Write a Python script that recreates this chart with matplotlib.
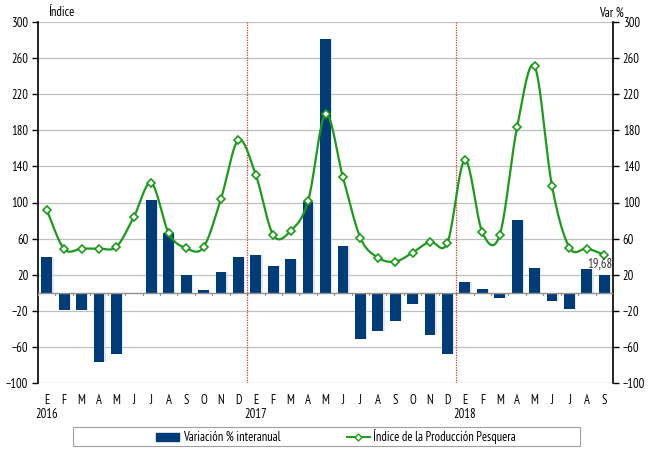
import numpy as np
import matplotlib
matplotlib.use("Agg")
import matplotlib.pyplot as plt
from matplotlib.patches import Patch, Rectangle
from matplotlib.lines import Line2D
from matplotlib import font_manager

names = {f.name for f in font_manager.fontManager.ttflist}
font = "Liberation Sans"
for cand in ["Liberation Sans Narrow", "Arial Narrow", "PT Sans Narrow", "Archivo Narrow",
             "Roboto Condensed", "Open Sans Condensed", "DejaVu Sans Condensed"]:
    if cand in names:
        font = cand
        break
plt.rcParams['font.family'] = [font, 'DejaVu Sans']

months = ["E", "F", "M", "A", "M", "J", "J", "A", "S", "O", "N", "D"] * 2 + ["E", "F", "M", "A", "M", "J", "J", "A", "S"]
years = ["2016", "2017", "2018"]

variacion = [40, -19, -19, -77, -68, -1, 103, 66, 20, 3, 23, 40,
             42, 30, 37, 101, 281, 52, -51, -42, -31, -13, -47, -68,
             12, 4.5, -6, 81, 27, -9, -18, 26, 19.68]
indice = [92, 48.5, 49, 49, 51, 84, 121.5, 66, 49.5, 50.5, 104, 169,
          130.5, 64, 68.5, 101.5, 198, 128, 61, 39, 34.5, 44.5, 56.5, 55.5,
          147, 67, 64, 184, 251, 118, 50, 49, 42]

navy = "#003D78"
green = "#1B9A1B"
fs = 9

fig = plt.figure(figsize=(6.5, 4.49), dpi=100)
ax = fig.add_axes([38/650, 1-383/449, (613-38)/650, (383-22)/449])
ax2 = ax.twinx()

n = len(variacion)
x = np.arange(n)

yt = np.arange(-100, 301, 40)
for v in yt:
    ax.axhline(v, color="#C0C0C0", lw=0.9, zorder=0)

ax2.bar(x + 0.08, variacion, width=0.62, color="#D8D8D8", alpha=0.6, zorder=1)
ax2.bar(x, variacion, width=0.62, color=navy, zorder=2)
ax2.axhline(0, color="#909090", lw=1.0, zorder=3)
for b in np.arange(n + 1) - 0.5:
    ax2.plot([b, b], [0, -3], color="#909090", lw=0.8, zorder=3)

def catmull(xs, ys, steps=20):
    P = np.column_stack([xs, ys]).astype(float)
    P = np.vstack([P[0], P, P[-1]])
    out = []
    for i in range(1, len(P) - 2):
        p0, p1, p2, p3 = P[i-1], P[i], P[i+1], P[i+2]
        c1 = p1 + (p2 - p0) / 6
        c2 = p2 - (p3 - p1) / 6
        t = np.linspace(0, 1, steps)[:, None]
        seg = (1-t)**3*p1 + 3*(1-t)**2*t*c1 + 3*(1-t)*t**2*c2 + t**3*p2
        out.append(seg if i == 1 else seg[1:])
    return np.vstack(out)

curve = catmull(x, indice)
ax2.plot(curve[:, 0], curve[:, 1], color=green, lw=1.6, zorder=4)
ax2.plot(x, indice, ls="none", marker="D", ms=4.2, mfc="white", mec=green, mew=1.2, zorder=5)

for b in [11.5, 23.5]:
    ax2.axvline(b, color="#E03030", ls=(0, (1, 1)), lw=0.9, zorder=3)

for a in (ax, ax2):
    a.set_ylim(-100, 300)
    a.set_yticks(yt)
    a.set_xlim(-0.5, n - 0.5)
    a.tick_params(axis="y", labelsize=fs, length=4, width=1, direction="out", colors="black", pad=3)
    for s in ["top", "bottom"]:
        a.spines[s].set_visible(False)
ax.spines["right"].set_visible(False)
ax2.spines["left"].set_visible(False)
ax.spines["left"].set_linewidth(1.2)
ax2.spines["right"].set_linewidth(1.2)

labels = []
yi = 0
for i, m in enumerate(months):
    if m == "E" and i % 12 == 0:
        labels.append(m + "\n" + years[yi]); yi += 1
    else:
        labels.append(m)
ax.set_xticks(x)
ax.set_xticklabels(labels, fontsize=fs, linespacing=1.1)
ax.tick_params(axis="x", length=0, pad=8)
ax2.tick_params(axis="x", length=0)

ax2.annotate("19,68", (x[-1], variacion[-1]), xytext=(-3, 3), textcoords="offset points",
             ha="center", va="bottom", fontsize=fs, color="#333333", zorder=6)

fig.text(48/650, 1-13/449, "Índice", fontsize=fs, ha="left", va="center")
fig.text(624/650, 1-13/449, "Var %", fontsize=fs, ha="right", va="center")

fig.patches.append(Rectangle((73/650, 1-446/449), (580-73)/650, 19/449, transform=fig.transFigure,
                             fill=False, edgecolor="#A0A0A0", lw=0.8))
handles = [Patch(facecolor=navy, edgecolor=navy),
           Line2D([0], [0], color=green, lw=1.4, marker="D", ms=3.5, mfc="white", mec=green)]
leg = fig.legend(handles, ["Variación % interanual", "Índice de la Producción Pesquera"],
                 loc="center", bbox_to_anchor=(336/650, 1-436.5/449), ncol=2, fontsize=fs,
                 frameon=False, columnspacing=5.3,
                 handlelength=1.85, handletextpad=0.3, borderpad=0.2, handleheight=0.6)

fig.savefig("out.png", dpi=100)
